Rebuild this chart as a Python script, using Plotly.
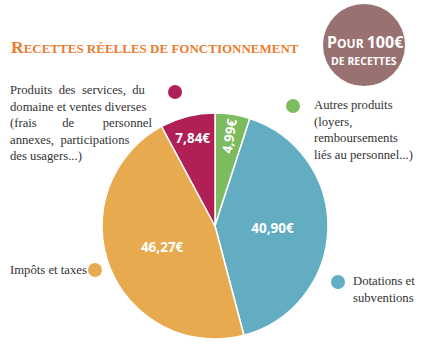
import plotly.graph_objects as go

categories = ["Autres produits", "Dotations et subventions", "Impôts et taxes",
              "Produits des services, du domaine et ventes diverses"]
values = [4.99, 40.90, 46.27, 7.84]
colors = ["#7dbb5f", "#63adc2", "#e8aa4e", "#b01f56"]

W, H = 440, 345

def px(x):
    return x / W

def py(y):
    return 1 - y / H

cx, cy, r = 215, 226, 113

fig = go.Figure(go.Pie(
    labels=categories,
    values=values,
    sort=False,
    direction="clockwise",
    rotation=0,
    marker=dict(colors=colors, line=dict(color="white", width=1.5)),
    texttemplate="%{value:.2f}€",
    textposition="inside",
    insidetextorientation="auto",
    textfont=dict(family="Open Sans", size=13.5, color="white", weight="bold"),
    showlegend=False,
    hoverinfo="label+value",
    domain=dict(x=[px(cx - r), px(cx + r)], y=[py(cy + r), py(cy - r)]),
))

shapes = []
# badge circle
shapes.append(dict(type="circle", xref="paper", yref="paper",
                   x0=px(323), x1=px(405), y0=py(86), y1=py(4),
                   fillcolor="#9a7171", line=dict(width=0), layer="below"))
# legend dots
dots = [(175, 92, colors[3]), (293, 106, colors[0]), (95, 270, colors[2]), (338, 282, colors[1])]
for x, y, c in dots:
    rr = 7
    shapes.append(dict(type="circle", xref="paper", yref="paper",
                       x0=px(x - rr), x1=px(x + rr), y0=py(y + rr), y1=py(y - rr),
                       fillcolor=c, line=dict(width=0)))

serif = "Liberation Serif"
txtcol = "#333333"
fs = 12.7
annotations = []
# title small caps
annotations.append(dict(
    text='<b><span style="font-size:17.5px">R</span>ECETTES RÉELLES DE FONCTIONNEMENT</b>',
    x=px(9), y=py(47), xref="paper", yref="paper", xanchor="left", yanchor="middle",
    showarrow=False, font=dict(family=serif, size=13, color="#ea7c2f")))
# badge text
annotations.append(dict(
    text='<span style="font-size:16px">P</span><span style="font-size:12px">OUR</span> <span style="font-size:16px">100€</span>',
    x=px(365), y=py(42), xref="paper", yref="paper", xanchor="center", yanchor="middle",
    showarrow=False, font=dict(family="Open Sans", size=12, color="white", weight="bold")))
annotations.append(dict(
    text='DE RECETTES',
    x=px(364), y=py(61), xref="paper", yref="paper", xanchor="center", yanchor="middle",
    showarrow=False, font=dict(family="Open Sans", size=10.5, color="white", weight="bold")))

left_lines = ["Produits&nbsp;&nbsp;des&nbsp;&nbsp;services,&nbsp;&nbsp;du",
              "domaine et ventes diverses",
              "(frais&nbsp;&nbsp;&nbsp;&nbsp;&nbsp;&nbsp;&nbsp;&nbsp;de&nbsp;&nbsp;&nbsp;&nbsp;&nbsp;&nbsp;&nbsp;&nbsp;&nbsp;personnel",
              "annexes,&nbsp;&nbsp;participations",
              "des usagers...)"]
annotations.append(dict(
    text="<br>".join(left_lines),
    x=px(8), y=py(81), xref="paper", yref="paper", xanchor="left", yanchor="top",
    align="left", showarrow=False, font=dict(family=serif, size=fs, color=txtcol)))
annotations.append(dict(
    text="Autres produits<br>(loyers,<br>remboursements<br>liés au personnel...)",
    x=px(312), y=py(96), xref="paper", yref="paper", xanchor="left", yanchor="top",
    align="left", showarrow=False, font=dict(family=serif, size=fs, color=txtcol)))
annotations.append(dict(
    text="Impôts et taxes",
    x=px(8), y=py(270), xref="paper", yref="paper", xanchor="left", yanchor="middle",
    align="left", showarrow=False, font=dict(family=serif, size=fs, color=txtcol)))
annotations.append(dict(
    text="Dotations et<br>subventions",
    x=px(351), y=py(272), xref="paper", yref="paper", xanchor="left", yanchor="top",
    align="left", showarrow=False, font=dict(family=serif, size=fs, color=txtcol)))

fig.update_layout(
    width=W, height=H,
    margin=dict(l=0, r=0, t=0, b=0),
    paper_bgcolor="white", plot_bgcolor="white",
    separators=", ",
    shapes=shapes,
    annotations=annotations,
)

fig.write_html("out.html")
